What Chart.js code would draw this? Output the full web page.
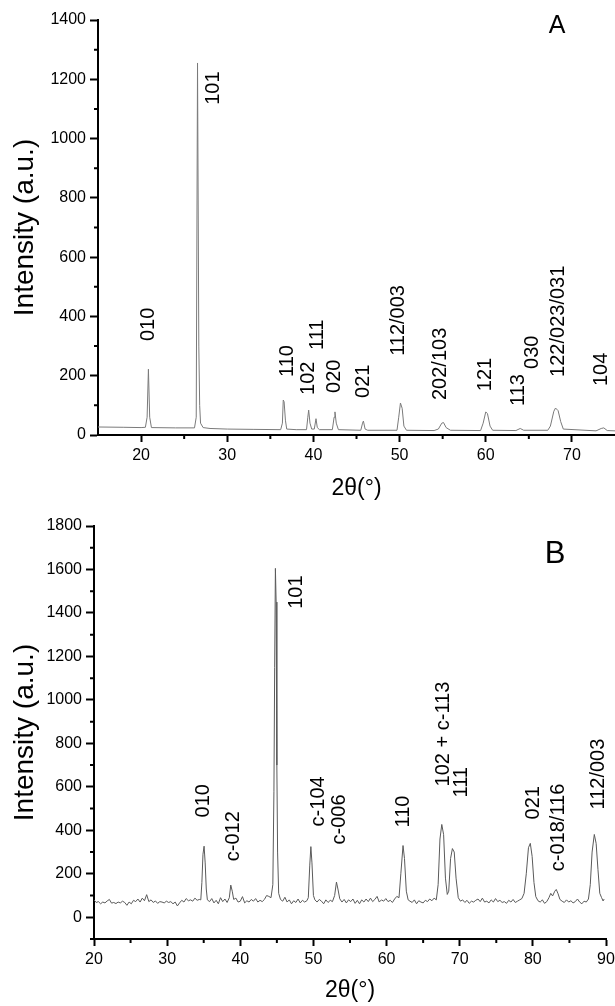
<!DOCTYPE html>
<html lang="en">
<head>
    <meta charset="UTF-8">
    <title>XRD patterns</title>
    <script src="https://cdn.jsdelivr.net/npm/chart.js"></script>
    <style>
        body { margin: 0; background: #fff; }
        canvas { display: block; }
    </style>
</head>
<body>
    <canvas id="chartA" width="615" height="503"></canvas>
    <canvas id="chartB" width="615" height="503"></canvas>
<script>

    // ---- panel A ----
    const twoThetaA = [15, 18, 20, 20.5, 20.7, 20.85, 21.0, 21.2, 24, 26.2, 26.4, 26.55, 26.7, 26.8, 26.9, 27.2, 28, 30, 33,
        36.2, 36.4, 36.5, 36.6, 36.75, 36.9, 38, 39.2, 39.35, 39.45, 39.6, 39.8, 40.1, 40.3, 40.45, 40.7, 42.2, 42.4, 42.5,
        42.65, 42.9, 45.5, 45.7, 45.8, 46.0, 46.3, 49.7, 49.9, 50.1, 50.3, 50.5, 50.8, 54, 54.5, 54.9, 55.1, 55.4, 55.9,
        59.4, 59.7, 60.0, 60.2, 60.5, 60.8, 63.5, 64.0, 64.4, 67.2, 67.5, 67.9, 68.1, 68.4, 68.7, 69.0, 72.8, 73.4, 73.7,
        74.1, 75]
    const intensityA = [27, 26, 25, 26, 60, 222, 60, 25, 24, 24, 60, 1255, 300, 100, 40, 25, 22, 20, 19,
        18, 40, 118, 112, 50, 20, 18, 18, 60, 84, 40, 20, 20, 55, 25, 18, 18, 60, 78,
        40, 18, 16, 40, 47, 20, 16, 16, 60, 108, 90, 30, 16, 15, 20, 40, 42, 25, 16,
        15, 40, 78, 72, 30, 16, 15, 22, 16, 16, 30, 80, 91, 82, 45, 20, 14, 22, 24,
        15, 14]
    const xTicksA = [20, 30, 40, 50, 60, 70]
    const xMinorA = [25, 35, 45, 55, 65]
    const yTicksA = [0, 200, 400, 600, 800, 1000, 1200, 1400]
    const yMinorA = [100, 300, 500, 700, 900, 1100, 1300]
    const peakNamesA = ['010', '101', '110', '102', '111', '020', '021', '112/003', '202/103', '121', '113', '030', '122/023/031', '104']
    const peakPosA = [20.7, 28.3, 36.9, 39.3, 40.3, 42.3, 45.7, 49.8, 54.65, 59.9, 63.7, 65.3, 68.3, 73.3]
    const peakLabelYA = [317, 1114, 196, 135, 287, 142, 125, 267, 118, 148, 98, 223, 196, 165]

    // ---- panel B ----
    const twoThetaB = [20.0, 20.3, 20.6, 20.9, 21.2, 21.5, 21.8, 22.1, 22.4, 22.7, 23.0, 23.3, 23.6, 23.9, 24.2, 24.5, 24.8,
        25.1, 25.4, 25.7, 26.0, 26.3, 26.6, 26.9, 27.2, 27.5, 27.8, 28.1, 28.4, 28.7, 29.0, 29.3, 29.6, 29.9, 30.2, 30.5,
        30.8, 31.1, 31.4, 31.7, 32.0, 32.3, 32.6, 32.9, 33.2, 33.5, 33.8, 34.1, 34.4, 34.6,
        34.75, 34.9, 35.05, 35.2, 35.35, 35.5, 35.8, 36.1, 36.4, 36.7, 37.0, 37.3, 37.6, 37.9, 38.2, 38.5, 38.7, 38.9,
        39.1, 39.4, 39.7, 40.0, 40.3, 40.6, 40.9, 41.2, 41.5, 41.8, 42.1, 42.4, 42.7, 43.0, 43.3, 43.6, 43.9, 44.2, 44.45,
        44.6, 44.7, 44.8, 44.9, 45.0, 45.1, 45.25, 45.5, 45.8, 46.1, 46.4, 46.7, 47.0, 47.3, 47.6, 47.9, 48.2, 48.5, 48.8,
        49.1, 49.3, 49.5, 49.65, 49.8, 50.0, 50.2, 50.5, 50.8, 51.1, 51.4, 51.7, 52.0, 52.3, 52.6, 52.9, 53.15, 53.35,
        53.6, 53.9, 54.2, 54.5, 54.8, 55.1, 55.4, 55.7, 56.0, 56.3, 56.6, 56.9, 57.2, 57.5, 57.8, 58.1, 58.4, 58.7, 59.0,
        59.3, 59.6, 59.9, 60.2, 60.5, 60.8, 61.1, 61.4, 61.7, 61.95, 62.25, 62.45, 62.7, 62.95, 63.2, 63.5, 63.8, 64.1,
        64.4, 64.7, 65.0, 65.3, 65.6, 65.9, 66.2, 66.5, 66.8, 67.05, 67.3, 67.55, 67.8, 68.05, 68.3, 68.5, 68.75, 69.0,
        69.25, 69.5, 69.8, 70.1, 70.4, 70.7, 71.0, 71.3, 71.6, 71.9, 72.2, 72.5, 72.8, 73.1, 73.4, 73.7, 74.0, 74.3, 74.6,
        74.9, 75.2, 75.5, 75.8, 76.1, 76.4, 76.7, 77.0, 77.3, 77.6, 77.9, 78.2, 78.5, 78.8, 79.1, 79.4, 79.65, 79.9, 80.15,
        80.4, 80.7, 81.0, 81.3, 81.6, 81.9, 82.2, 82.45, 82.7, 83.0, 83.2, 83.45, 83.7, 84.0, 84.3, 84.6, 84.9, 85.2, 85.5,
        85.8, 86.1, 86.4, 86.7, 87.0, 87.3, 87.6, 87.85, 88.1, 88.4, 88.65, 88.9, 89.15, 89.4, 89.6, 89.75]
    const intensityB = [80, 68, 72, 62, 70, 66, 75, 82, 65, 68, 63, 70, 66, 74, 68, 55, 70,
        62, 78, 72, 84, 70, 88, 76, 104, 72, 80, 68, 75, 64, 72, 70, 66, 74, 68, 72,
        62, 70, 52, 66, 78, 70, 86, 76, 80, 74, 88, 78, 82, 80,
        160, 290, 327, 250, 130, 80, 72, 86, 66, 78, 62, 90, 72, 84, 68, 90, 148, 120,
        82, 88, 70, 74, 95, 66, 76, 70, 82, 74, 86, 70, 78, 72, 82, 100, 96, 90, 150,
        580, 1150, 1605, 1450, 700, 300, 110, 82, 74, 92, 70, 80, 62, 76, 68, 84, 66, 78, 70,
        76, 90, 240, 325, 250, 100, 80, 70, 82, 74, 62, 80, 68, 78, 72, 100, 162, 130,
        85, 70, 82, 66, 80, 72, 84, 64, 78, 62, 80, 70, 84, 72, 88, 72, 82, 96, 70,
        80, 74, 86, 72, 78, 68, 84, 96, 90, 200, 330, 270, 120, 80, 74, 68, 80, 62,
        76, 70, 66, 78, 72, 84, 76, 88, 80, 150, 360, 427, 380, 180, 105, 120, 270, 316,
        300, 180, 90, 74, 80, 68, 78, 64, 74, 70, 78, 84, 72, 88, 70, 74, 66, 80, 70,
        86, 72, 78, 68, 72, 64, 78, 70, 82, 68, 74, 80, 86, 110, 200, 320, 340, 280, 160,
        95, 76, 70, 80, 64, 72, 90, 110, 98, 120, 128, 108, 82, 74, 68, 80, 70, 76, 66,
        72, 84, 70, 62, 74, 70, 84, 150, 300, 381, 340, 220, 110, 90, 75, 84]
    const xTicksB = [20, 30, 40, 50, 60, 70, 80, 90]
    const xMinorB = [25, 35, 45, 55, 65, 75, 85]
    const yTicksB = [0, 200, 400, 600, 800, 1000, 1200, 1400, 1600, 1800]
    const yMinorB = [-100, 100, 300, 500, 700, 900, 1100, 1300, 1500, 1700]
    const peakNamesB = ['010', 'c-012', '101', 'c-104', 'c-006', '110', '102 + c-113', '111', '021', 'c-018/116', '112/003']
    const peakPosB = [34.9, 38.9, 47.6, 50.5, 53.4, 62.2, 67.6, 70.1, 79.9, 83.4, 88.8]
    const peakLabelYB = [459, 258, 1419, 418, 335, 413, 602, 551, 450, 212, 496]

    const FONT = "'Liberation Sans', Arial, sans-serif"

    // short ticks between the labelled ones, placed through the chart's own scales
    function minorTicksPlugin(xMinor, yMinor) {
        return {
            id: 'minorTicks',
            afterDraw(chart) {
                const { ctx } = chart
                const xs = chart.scales.x, ys = chart.scales.y
                ctx.save()
                ctx.strokeStyle = '#000'
                ctx.lineWidth = 2
                ctx.beginPath()
                xMinor.forEach(v => {
                    const p = xs.getPixelForValue(v)
                    ctx.moveTo(p, xs.top)
                    ctx.lineTo(p, xs.top + 4)
                })
                yMinor.forEach(v => {
                    const p = ys.getPixelForValue(v)
                    ctx.moveTo(ys.right, p)
                    ctx.lineTo(ys.right - 4, p)
                })
                ctx.stroke()
                ctx.restore()
            }
        }
    }

    // rotated peak names + panel letter
    function labelsPlugin(names, xs_, ys_, letter, letterSize, letterDx, letterDy) {
        return {
            id: 'peakLabels',
            afterDatasetsDraw(chart) {
                const { ctx, chartArea } = chart
                const xs = chart.scales.x, ys = chart.scales.y
                ctx.save()
                ctx.fillStyle = '#000'
                ctx.font = '20px ' + FONT
                ctx.textAlign = 'left'
                ctx.textBaseline = 'middle'
                names.forEach((t, i) => {
                    ctx.save()
                    ctx.translate(xs.getPixelForValue(xs_[i]), ys.getPixelForValue(ys_[i]))
                    ctx.rotate(-Math.PI / 2)
                    ctx.fillText(t, 0, 1)
                    ctx.restore()
                })
                ctx.font = letterSize + 'px ' + FONT
                ctx.textAlign = 'center'
                ctx.textBaseline = 'alphabetic'
                ctx.fillText(letter, chartArea.right - letterDx, chartArea.top + letterDy)
                ctx.restore()
            }
        }
    }

    function makeChart(id, xv, yv, cfg) {
        return new Chart(document.getElementById(id), {
            type: 'line',
            data: {
                datasets: [{
                    data: xv.map((x, i) => ({ x: x, y: yv[i] })),
                    borderColor: cfg.color,
                    borderWidth: 1,
                    pointRadius: 0,
                    tension: 0,
                    fill: false
                }]
            },
            options: {
                responsive: false,
                animation: false,
                layout: { padding: cfg.padding },
                plugins: { legend: { display: false }, tooltip: { enabled: false } },
                scales: {
                    x: {
                        type: 'linear',
                        min: cfg.xMin,
                        max: cfg.xMax,
                        afterBuildTicks: s => { s.ticks = cfg.xTicks.map(v => ({ value: v })) },
                        afterFit: s => { s.height = cfg.xHeight; s.paddingLeft = 0; s.paddingRight = 0 },
                        grid: { drawOnChartArea: false, tickLength: 7, tickWidth: 2, tickColor: '#000' },
                        border: { color: '#000', width: 2 },
                        ticks: { color: '#000', font: { family: FONT, size: 16 }, padding: 4, maxRotation: 0, autoSkip: false,
                            callback: v => String(v) },
                        title: { display: true, text: '2θ(°)', color: '#000', font: { family: FONT, size: 23 }, padding: { bottom: cfg.xTitlePad } }
                    },
                    y: {
                        min: cfg.yMin,
                        max: cfg.yMax,
                        afterBuildTicks: s => { s.ticks = cfg.yTicks.map(v => ({ value: v })) },
                        afterFit: s => { s.width = cfg.yWidth; s.paddingTop = 0; s.paddingBottom = 0 },
                        grid: { drawOnChartArea: false, tickLength: 8, tickWidth: 2, tickColor: '#000' },
                        border: { color: '#000', width: 2 },
                        ticks: { color: '#000', font: { family: FONT, size: 16 }, padding: 4, autoSkip: false,
                            callback: v => String(v) },
                        title: { display: true, text: 'Intensity (a.u.)', color: '#000', font: { family: FONT, size: 28 }, padding: { top: 8 } }
                    }
                }
            },
            plugins: [minorTicksPlugin(cfg.xMinor, cfg.yMinor),
                      labelsPlugin(cfg.names, cfg.labelX, cfg.labelY, cfg.letter, cfg.letterSize, cfg.letterDx, cfg.letterDy)]
        })
    }

    makeChart('chartA', twoThetaA, intensityA, {
        color: '#7a7a7a', padding: { top: 20, right: 0, left: 0, bottom: 0 },
        xMin: 15, xMax: 75, xTicks: xTicksA, xMinor: xMinorA, xHeight: 68, xTitlePad: 1,
        yMin: 0, yMax: 1400, yTicks: yTicksA, yMinor: yMinorA, yWidth: 98,
        names: peakNamesA, labelX: peakPosA, labelY: peakLabelYA,
        letter: 'A', letterSize: 25, letterDx: 58, letterDy: 13
    })

    makeChart('chartB', twoThetaB, intensityB, {
        color: '#5a5a5a', padding: { top: 23, right: 9, left: 0, bottom: 0 },
        xMin: 20, xMax: 90, xTicks: xTicksB, xMinor: xMinorB, xHeight: 67, xTitlePad: 2,
        yMin: -100, yMax: 1800, yTicks: yTicksB, yMinor: yMinorB, yWidth: 94,
        names: peakNamesB, labelX: peakPosB, labelY: peakLabelYB,
        letter: 'B', letterSize: 31, letterDx: 51, letterDy: 37
    })

</script>
</body>
</html>
